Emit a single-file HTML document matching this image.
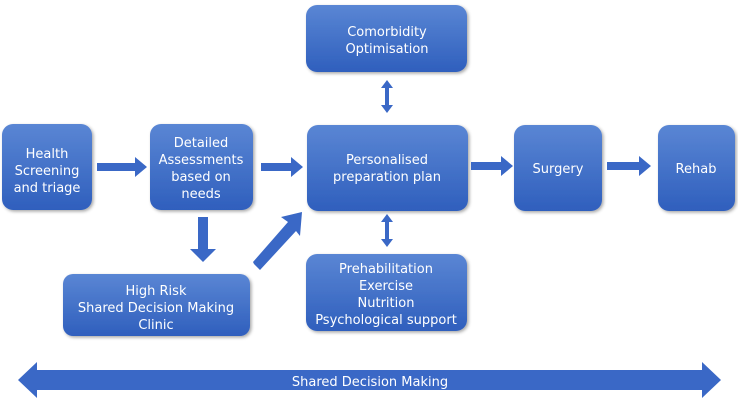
<!DOCTYPE html>
<html><head><style>
body{margin:0;background:#fff;width:738px;height:401px;overflow:hidden}
text{font-family:"DejaVu Sans","Liberation Sans",sans-serif;font-size:13px;fill:#fff;text-anchor:middle}
</style></head><body>
<svg width="738" height="401" viewBox="0 0 738 401">
<defs>
<linearGradient id="g" x1="0" y1="0" x2="0" y2="1"><stop offset="0" stop-color="#5a86d4"/><stop offset="1" stop-color="#2f5fbd"/></linearGradient>
<filter id="s" x="-10%" y="-10%" width="130%" height="130%"><feDropShadow dx="1.5" dy="1.5" stdDeviation="1.5" flood-color="#000" flood-opacity="0.35"/></filter>
</defs>
<g fill="url(#g)" filter="url(#s)">
<rect x="2" y="124" width="90" height="86" rx="11"/>
<rect x="150" y="124" width="103" height="86" rx="11"/>
<rect x="63" y="274" width="187" height="62" rx="10"/>
<rect x="306" y="5" width="161" height="67" rx="11"/>
<rect x="307" y="125" width="161" height="86" rx="11"/>
<rect x="306" y="254" width="161" height="77" rx="11"/>
<rect x="514" y="125" width="88" height="86" rx="11"/>
<rect x="658" y="125" width="77" height="86" rx="11"/>
</g>
<g fill="#3a68c6">
<polygon points="97,163 135,163 135,157 147,167 135,177 135,171 97,171"/>
<polygon points="261,163 291,163 291,157 303,167 291,177 291,171 261,171"/>
<polygon points="471,162 501,162 501,156 513,166 501,176 501,170 471,170"/>
<polygon points="607,162 639,162 639,156 651,166 639,176 639,170 607,170"/>
<polygon points="198,217 208,217 208,249 216,249 203,262 190,249 198,249"/>
<polygon points="254,264 260,270 296,231 300,236 302,212 281,217 288,222 253,262"/>
<polygon points="387,80 393,88 389,88 389,105 393,105 387,113 381,105 385,105 385,88 381,88"/>
<polygon points="387,214 393,222 389,222 389,239 393,239 387,247 381,239 385,239 385,222 381,222"/>
<polygon points="18,380 37,362 37,370 702,370 702,362 721,380 702,398 702,390 37,390 37,398"/>
</g>
<text x="47" y="158">Health</text><text x="47" y="175">Screening</text><text x="47" y="192">and triage</text>
<text x="201" y="147">Detailed</text><text x="201" y="164">Assessments</text><text x="201" y="181">based on</text><text x="201" y="198">needs</text>
<text x="156" y="295">High Risk</text><text x="156" y="312">Shared Decision Making</text><text x="156" y="329">Clinic</text>
<text x="387" y="36">Comorbidity</text><text x="387" y="53">Optimisation</text>
<text x="387" y="164">Personalised</text><text x="387" y="181">preparation plan</text>
<text x="386" y="273">Prehabilitation</text><text x="386" y="290">Exercise</text><text x="386" y="307">Nutrition</text><text x="386" y="324">Psychological support</text>
<text x="558" y="173">Surgery</text>
<text x="696" y="173">Rehab</text>
<text x="370" y="386">Shared Decision Making</text>
</svg>
</body></html>
